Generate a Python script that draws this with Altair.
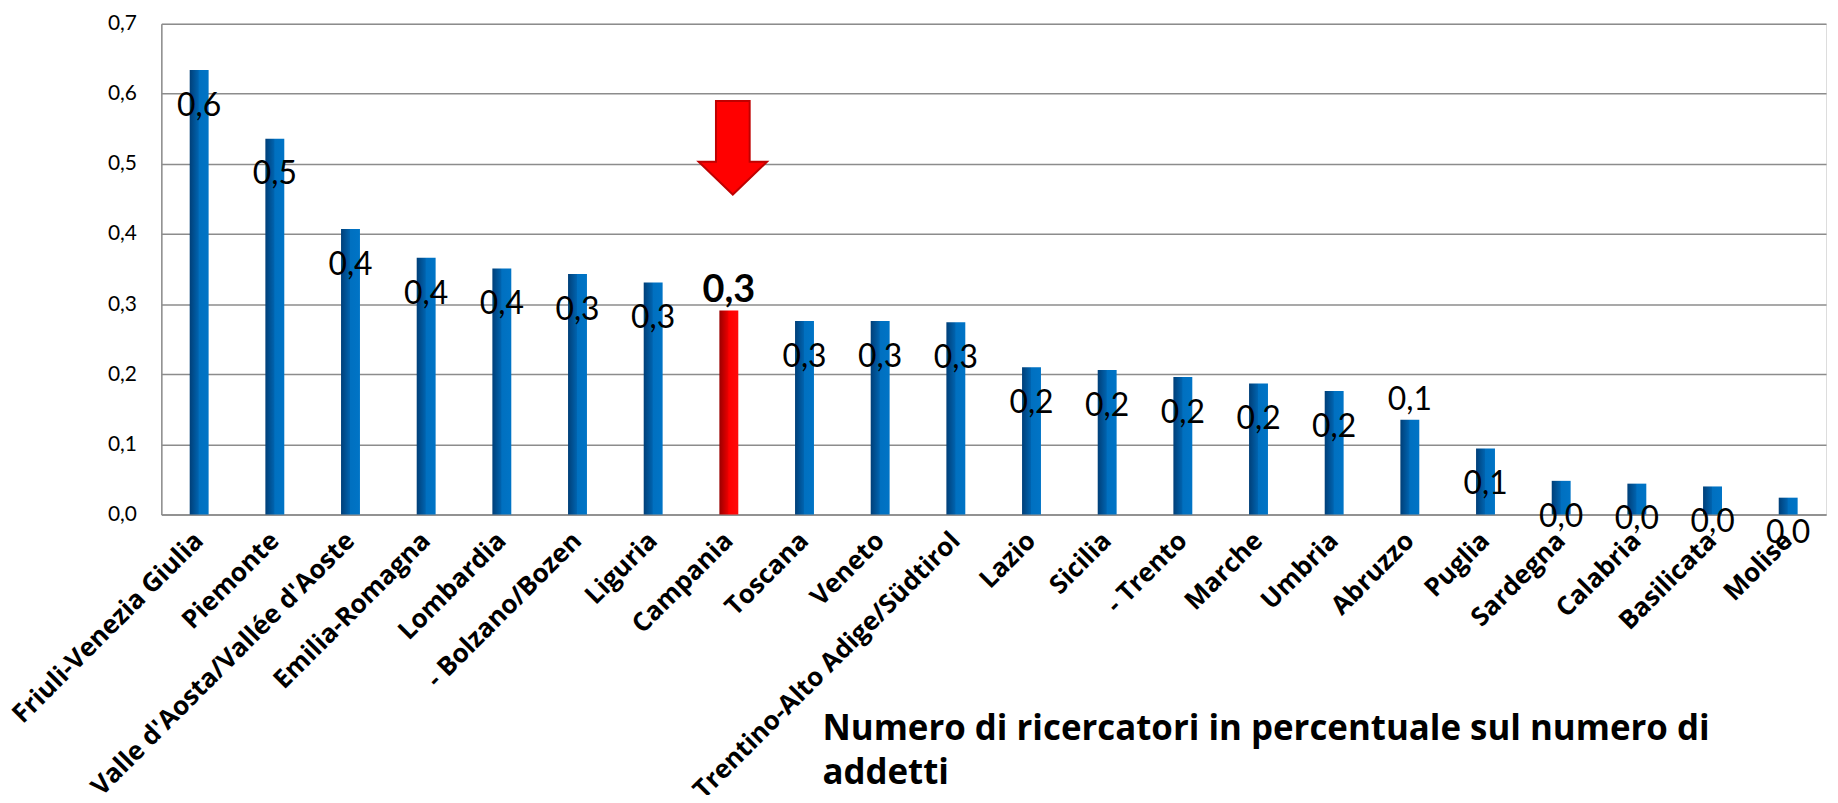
import altair as alt
import pandas as pd

regions = [
    "Friuli-Venezia Giulia", "Piemonte", "Valle d'Aosta/Vallée d'Aoste",
    "Emilia-Romagna", "Lombardia", "- Bolzano/Bozen", "Liguria", "Campania",
    "Toscana", "Veneto", "Trentino-Alto Adige/Südtirol", "Lazio", "Sicilia",
    "- Trento", "Marche", "Umbria", "Abruzzo", "Puglia", "Sardegna",
    "Calabria", "Basilicata", "Molise",
]
values = [
    0.634, 0.536, 0.407, 0.366, 0.351, 0.343, 0.331, 0.291,
    0.276, 0.276, 0.274, 0.210, 0.206, 0.196, 0.187, 0.176,
    0.135, 0.094, 0.048, 0.044, 0.040, 0.024,
]
highlight = "Campania"
labels_above = ["Campania", "Abruzzo"]
y_ticks = [0.0, 0.1, 0.2, 0.3, 0.4, 0.5, 0.6, 0.7]
arrow_level = [0.523]
title_lines = ["Numero di ricercatori in percentuale sul numero di", "addetti"]

df = pd.DataFrame({"region": regions, "value": values})

FONT = "Lato"
LFONT = "Open Sans"
GRID = "#8c8c8c"

blue_grad = alt.Gradient(
    gradient="linear", x1=0, x2=1, y1=0, y2=0,
    stops=[
        alt.GradientStop(color="#003f78", offset=0),
        alt.GradientStop(color="#0062ad", offset=0.45),
        alt.GradientStop(color="#0070c0", offset=0.5),
        alt.GradientStop(color="#0074c6", offset=1),
    ],
)
red_grad = alt.Gradient(
    gradient="linear", x1=0, x2=1, y1=0, y2=0,
    stops=[
        alt.GradientStop(color="#9a0000", offset=0),
        alt.GradientStop(color="#e80000", offset=0.45),
        alt.GradientStop(color="#ff0000", offset=0.5),
        alt.GradientStop(color="#ff0a0a", offset=1),
    ],
)

x_enc = alt.X(
    "region:N", sort=regions,
    scale=alt.Scale(paddingInner=0, paddingOuter=0),
    axis=alt.Axis(
        title=None, labelAngle=-45, labelAlign="right", labelBaseline="middle",
        labelFont=LFONT, labelFontSize=26, labelFontWeight="bold",
        labelColor="black", labelPadding=22, labelLimit=600,
        ticks=False, domain=True, domainColor=GRID, domainWidth=1.5,
        grid=False,
    ),
)
y_enc = alt.Y(
    "value:Q",
    scale=alt.Scale(domain=[0, 0.7], nice=False, zero=True),
    axis=alt.Axis(
        title=None, values=y_ticks,
        labelExpr="replace(format(datum.value, '.1f'), '.', ',')",
        labelFont=FONT, labelFontSize=21, labelColor="black", labelPadding=25,
        ticks=False, domain=True, domainColor=GRID, domainWidth=1.5,
        grid=True, gridColor=GRID, gridWidth=1.5,
    ),
)

base = alt.Chart(df).transform_calculate(
    label="replace(format(datum.value, '.1f'), '.', ',')"
)

bars_blue = base.transform_filter(
    alt.datum.region != highlight
).mark_bar(size=19, color=blue_grad).encode(x=x_enc, y=y_enc)

bars_red = base.transform_filter(
    alt.datum.region == highlight
).mark_bar(size=19, color=red_grad).encode(x=x_enc, y=y_enc)

text_inside = base.transform_filter(
    {"not": alt.FieldOneOfPredicate(field="region", oneOf=labels_above)}
).mark_text(
    font=FONT, fontSize=32, baseline="alphabetic", align="center", dy=46, color="black"
).encode(x=x_enc, y=y_enc, text="label:N")

text_above = base.transform_filter(
    alt.FieldOneOfPredicate(field="region", oneOf=labels_above)
).transform_filter(
    alt.datum.region != highlight
).mark_text(
    font=FONT, fontSize=32, baseline="alphabetic", align="center", dy=-10, color="black"
).encode(x=x_enc, y=y_enc, text="label:N")

text_high = base.transform_filter(
    alt.datum.region == highlight
).mark_text(
    font=FONT, fontSize=38, fontWeight="bold", baseline="alphabetic",
    align="center", dy=-8, color="black"
).encode(x=x_enc, y=y_enc, text="label:N")

arrow_df = pd.DataFrame({"region": [highlight], "value": arrow_level})
arrow_path = "M -0.36 -1 L 0.36 -1 L 0.36 0.3 L 0.73 0.3 L 0 1 L -0.73 0.3 L -0.36 0.3 Z"
arrow = alt.Chart(arrow_df).mark_point(
    shape=arrow_path, size=94 * 94, filled=True, fill="#ff0000",
    stroke="#c00000", strokeWidth=2, opacity=1, xOffset=4,
).encode(x=x_enc, y=y_enc)

chart = alt.layer(
    bars_blue, bars_red, text_inside, text_above, text_high, arrow
).properties(
    width=1672, height=493,
    autosize=alt.AutoSizeParams(type="none"),
    padding={"left": 154, "top": 14, "right": 4, "bottom": 280},
    title=alt.TitleParams(
        text=title_lines, orient="bottom", anchor="start", frame="group",
        dx=664, offset=-92, font=LFONT, fontSize=35, fontWeight="bold",
        lineHeight=45, color="black",
    ),
).configure_view(stroke=None).configure(background="white")

chart.save("out.html", embed_options={"renderer": "svg", "actions": False})
